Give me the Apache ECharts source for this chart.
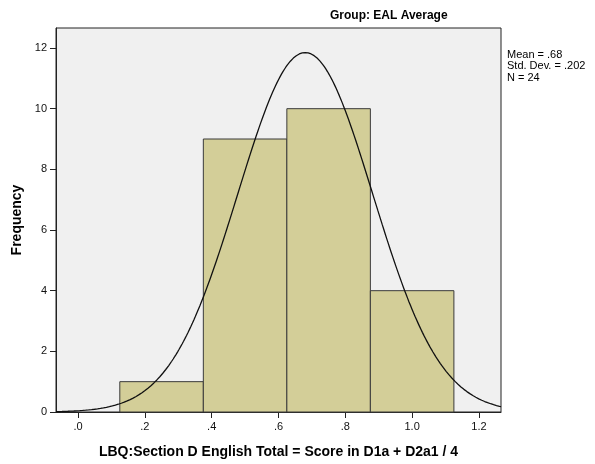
<!DOCTYPE html>
<html>
<head>
<meta charset="utf-8">
<script src="https://cdn.jsdelivr.net/npm/echarts@6/dist/echarts.min.js"></script>
<style>
  html, body { margin: 0; padding: 0; background: #fff; }
  #chart { width: 595px; height: 464px; }
</style>
</head>
<body>
<div id="chart"></div>
<script>
// Histogram bins (lower edge, upper edge) and their frequencies
const binStarts = [0.125, 0.375, 0.625, 0.875];
const binEnds = [0.375, 0.625, 0.875, 1.125];
const frequencies = [1, 9, 10, 4];

// Summary statistics printed beside the plot
const meanVal = 0.68;
const sdVal = 0.202;
const nVal = 24;
const binWidth = 0.25;

// Axis tick positions and labels
const xTicks = [0, 0.2, 0.4, 0.6, 0.8, 1.0, 1.2];
const xTickLabels = ['.0', '.2', '.4', '.6', '.8', '1.0', '1.2'];
const yTicks = [0, 2, 4, 6, 8, 10, 12];

const xMin = -0.066, xMax = 1.266, yMax = 12.66;

// Fitted normal curve scaled to frequency counts (N * bin width * density)
const curve = [];
for (let i = 0; i <= 300; i++) {
  const x = xMin + (xMax - xMin) * i / 300;
  const z = (x - meanVal) / sdVal;
  const y = nVal * binWidth / (sdVal * Math.sqrt(2 * Math.PI)) * Math.exp(-0.5 * z * z);
  curve.push([x, y]);
}

const barData = binStarts.map((s, i) => [s, binEnds[i], frequencies[i]]);

const chart = echarts.init(document.getElementById('chart'), null, { renderer: 'canvas' });
const font = 'Arial, "Liberation Sans", sans-serif';

chart.setOption({
  animation: false,
  textStyle: { fontFamily: font },
  grid: {
    left: 56, right: 94, top: 28, bottom: 50,
    show: true, backgroundColor: '#f0f0f0', borderColor: '#222', borderWidth: 1
  },
  xAxis: {
    type: 'value', min: xMin, max: xMax,
    name: 'LBQ:Section D English Total = Score in D1a + D2a1 / 4',
    nameLocation: 'middle', nameGap: 33,
    nameTextStyle: { fontSize: 14, fontWeight: 'bold', color: '#000', fontFamily: font },
    axisLine: { show: true, onZero: false, lineStyle: { color: '#222', width: 1 } },
    axisTick: { show: true, length: 6, customValues: xTicks, lineStyle: { color: '#222' } },
    axisLabel: {
      customValues: xTicks, fontSize: 11, color: '#111', margin: 9,
      formatter: v => {
        const idx = xTicks.findIndex(t => Math.abs(t - v) < 1e-9);
        return idx >= 0 ? xTickLabels[idx] : '';
      }
    },
    splitLine: { show: false }
  },
  yAxis: {
    type: 'value', min: 0, max: yMax,
    name: 'Frequency', nameLocation: 'middle', nameGap: 31,
    nameTextStyle: { fontSize: 14, fontWeight: 'bold', color: '#000', fontFamily: font },
    axisLine: { show: true, onZero: false, lineStyle: { color: '#222', width: 1 } },
    axisTick: { show: true, length: 6, customValues: yTicks, lineStyle: { color: '#222' } },
    axisLabel: { customValues: yTicks, fontSize: 11, color: '#111', margin: 9 },
    splitLine: { show: false }
  },
  series: [
    {
      type: 'custom',
      data: barData,
      encode: { x: [0, 1], y: 2 },
      renderItem: (params, api) => {
        const p0 = api.coord([api.value(0), api.value(2)]);
        const p1 = api.coord([api.value(1), 0]);
        return {
          type: 'rect',
          shape: { x: p0[0], y: p0[1], width: p1[0] - p0[0], height: p1[1] - p0[1] },
          style: { fill: '#d3ce98', stroke: '#3a3a3a', lineWidth: 1 }
        };
      },
      z: 2
    },
    {
      type: 'line',
      data: curve,
      showSymbol: false,
      smooth: false,
      lineStyle: { color: '#111', width: 1.3 },
      z: 3
    }
  ],
  graphic: [
    {
      type: 'text', left: 330, top: 10,
      style: {
        text: 'Group: EAL Average', fill: '#000', font: 'bold 12px ' + font,
        textAlign: 'center'
      }
    },
    {
      type: 'text', left: 507, top: 49,
      style: {
        text: 'Mean = .68\nStd. Dev. = .202\nN = 24',
        fill: '#000', font: '11px ' + font, lineHeight: 11.5
      }
    }
  ]
});
</script>
</body>
</html>
